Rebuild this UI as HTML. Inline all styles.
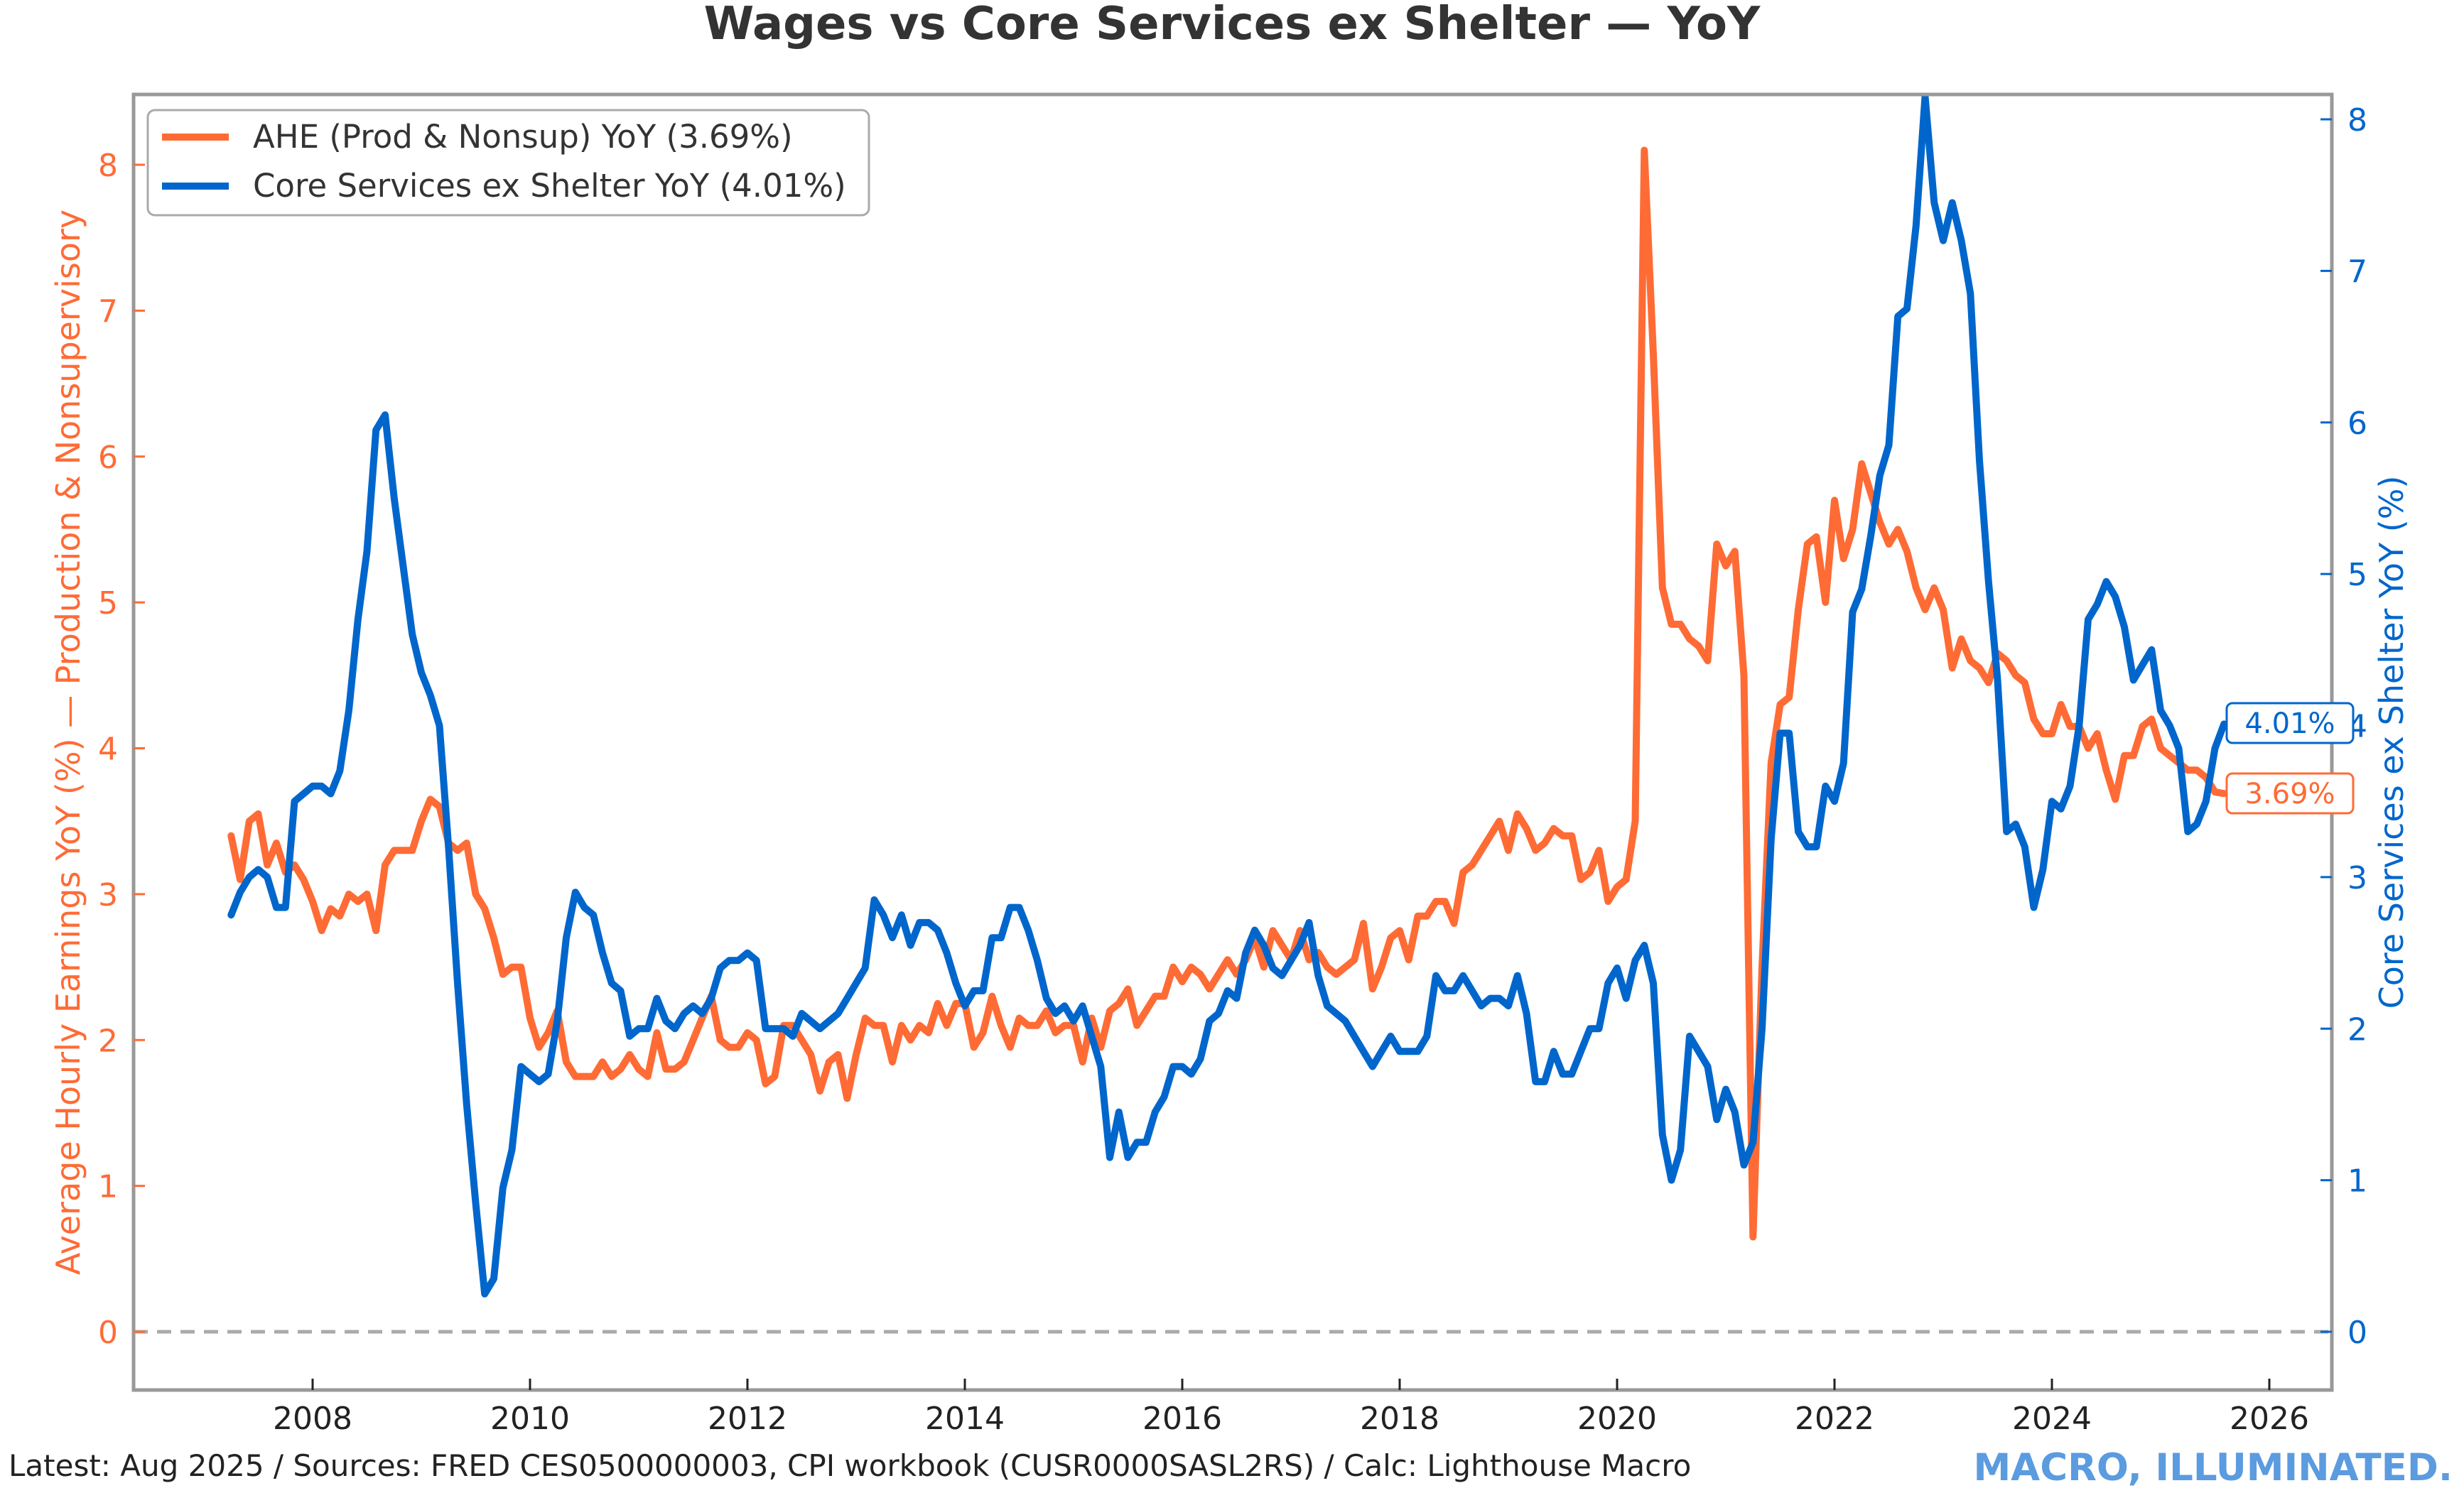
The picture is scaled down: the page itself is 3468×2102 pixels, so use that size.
<!DOCTYPE html>
<html><head><meta charset="utf-8"><style>
body{margin:0;background:#fff}
svg{display:block;font-family:"DejaVu Sans","Liberation Sans",sans-serif}
</style></head><body>
<svg id="chart" width="3468" height="2102" viewBox="0 0 3468 2102" xmlns="http://www.w3.org/2000/svg">
<rect width="3468" height="2102" fill="#fff"/>
<text x="1734" y="55" text-anchor="middle" font-size="64" font-weight="bold" fill="#333">Wages vs Core Services ex Shelter — YoY</text>
<g id="plot"></g>
</svg>
<script>
const startYear = 2007, startMonth = 4;
const ahe = [
3.4,3.1,3.5,3.55,3.2,3.35,3.15,3.2,3.1,
2.95,2.75,2.9,2.85,3.0,2.95,3.0,2.75,3.2,3.3,3.3,3.3,
3.5,3.65,3.6,3.35,3.3,3.35,3.0,2.9,2.7,2.45,2.5,2.5,
2.15,1.95,2.05,2.2,1.85,1.75,1.75,1.75,1.85,1.75,1.8,1.9,
1.8,1.75,2.05,1.8,1.8,1.85,2.0,2.15,2.3,2.0,1.95,1.95,
2.05,2.0,1.7,1.75,2.1,2.1,2.0,1.9,1.65,1.85,1.9,1.6,
1.9,2.15,2.1,2.1,1.85,2.1,2.0,2.1,2.05,2.25,2.1,2.25,
2.25,1.95,2.05,2.3,2.1,1.95,2.15,2.1,2.1,2.2,2.05,2.1,
2.1,1.85,2.15,1.95,2.2,2.25,2.35,2.1,2.2,2.3,2.3,2.5,
2.4,2.5,2.45,2.35,2.45,2.55,2.45,2.55,2.7,2.5,2.75,2.65,
2.55,2.75,2.55,2.6,2.5,2.45,2.5,2.55,2.8,2.35,2.5,2.7,
2.75,2.55,2.85,2.85,2.95,2.95,2.8,3.15,3.2,3.3,3.4,3.5,
3.3,3.55,3.45,3.3,3.35,3.45,3.4,3.4,3.1,3.15,3.3,2.95,
3.05,3.1,3.5,8.1,6.7,5.1,4.85,4.85,4.75,4.7,4.6,5.4,
5.25,5.35,4.5,0.65,2.5,3.9,4.3,4.35,4.95,5.4,5.45,5.0,
5.7,5.3,5.5,5.95,5.75,5.55,5.4,5.5,5.35,5.1,4.95,5.1,
4.95,4.55,4.75,4.6,4.55,4.45,4.65,4.6,4.5,4.45,4.2,4.1,
4.1,4.3,4.15,4.15,4.0,4.1,3.85,3.65,3.95,3.95,4.15,4.2,
4.0,3.95,3.9,3.85,3.85,3.8,3.7,3.69];
const core = [
2.75,2.9,3.0,3.05,3.0,2.8,2.8,3.5,3.55,
3.6,3.6,3.55,3.7,4.1,4.7,5.15,5.95,6.05,5.5,5.05,4.6,
4.35,4.2,4.0,3.2,2.3,1.5,0.85,0.25,0.35,0.95,1.2,1.75,
1.7,1.65,1.7,2.05,2.6,2.9,2.8,2.75,2.5,2.3,2.25,1.95,
2.0,2.0,2.2,2.05,2.0,2.1,2.15,2.1,2.2,2.4,2.45,2.45,
2.5,2.45,2.0,2.0,2.0,1.95,2.1,2.05,2.0,2.05,2.1,2.2,
2.3,2.4,2.85,2.75,2.6,2.75,2.55,2.7,2.7,2.65,2.5,2.3,
2.15,2.25,2.25,2.6,2.6,2.8,2.8,2.65,2.45,2.2,2.1,2.15,
2.05,2.15,1.95,1.75,1.15,1.45,1.15,1.25,1.25,1.45,1.55,1.75,
1.75,1.7,1.8,2.05,2.1,2.25,2.2,2.5,2.65,2.55,2.4,2.35,
2.45,2.55,2.7,2.35,2.15,2.1,2.05,1.95,1.85,1.75,1.85,1.95,
1.85,1.85,1.85,1.95,2.35,2.25,2.25,2.35,2.25,2.15,2.2,2.2,
2.15,2.35,2.1,1.65,1.65,1.85,1.7,1.7,1.85,2.0,2.0,2.3,
2.4,2.2,2.45,2.55,2.3,1.3,1.0,1.2,1.95,1.85,1.75,1.4,
1.6,1.45,1.1,1.25,2.0,3.25,3.95,3.95,3.3,3.2,3.2,3.6,
3.5,3.75,4.75,4.9,5.25,5.65,5.85,6.7,6.75,7.3,8.15,7.45,
7.2,7.45,7.2,6.85,5.75,4.95,4.3,3.3,3.35,3.2,2.8,3.05,
3.5,3.45,3.6,4.0,4.7,4.8,4.95,4.85,4.65,4.3,4.4,4.5,
4.1,4.0,3.85,3.3,3.35,3.5,3.85,4.01];
const xTicks = [2008,2010,2012,2014,2016,2018,2020,2022,2024,2026];
const leftTicks = [0,1,2,3,4,5,6,7,8];
const rightTicks = [0,1,2,3,4,5,6,7,8];

const L=188,R=3282,T=133,B=1957;
const xs = t => 440 + (t-2008)*(3194-440)/18;
const yl = v => 1875 - v*(1875-232)/8;
const yr = v => 1875 - v*(1875-168)/8;
const tOf = i => startYear + (startMonth-1+i)/12;
const NS="http://www.w3.org/2000/svg";
const g=document.getElementById('plot');
function mk(tag,attrs,parent){const e=document.createElementNS(NS,tag);for(const k in attrs)e.setAttribute(k,attrs[k]);(parent||g).appendChild(e);return e;}

const z=mk('line',{x1:L,x2:R,y1:yl(0),y2:yl(0),stroke:'#aaa','stroke-width':5,'stroke-dasharray':'20 13'});



function series(arr,yf,color,name){
  const d=arr.map((v,i)=>(i?'L':'M')+xs(tOf(i)).toFixed(1)+','+yf(v).toFixed(1)).join('');
  const p=mk('path',{d:d,fill:'none',stroke:color,'stroke-width':10,'stroke-linejoin':'round','stroke-linecap':'round'});
  
  
}
series(ahe,yl,'#FF6B35','ahe-yoy-line');
series(core,yr,'#0066CC','core-services-yoy-line');

const fr=mk('rect',{x:L,y:T,width:R-L,height:B-T,fill:'none',stroke:'#999','stroke-width':5});



xTicks.forEach(t=>{
  const x=xs(t);
  mk('line',{x1:x,x2:x,y1:B,y2:B-16,stroke:'#222','stroke-width':3});
  const tx=mk('text',{x:x,y:2012,'text-anchor':'middle','font-size':44,fill:'#222'});
  tx.textContent=t;
  
  
});
leftTicks.forEach(v=>{
  const y=yl(v);
  mk('line',{x1:L,x2:L+16,y1:y,y2:y,stroke:'#FF6B35','stroke-width':3});
  const tx=mk('text',{x:L-22,y:y+16,'text-anchor':'end','font-size':44,fill:'#FF6B35'});
  tx.textContent=v;
  
  
});
rightTicks.forEach(v=>{
  const y=yr(v);
  mk('line',{x1:R,x2:R-16,y1:y,y2:y,stroke:'#0066CC','stroke-width':3});
  const tx=mk('text',{x:R+22,y:y+16,'text-anchor':'start','font-size':44,fill:'#0066CC'});
  tx.textContent=v;
  
  
});

const lt=mk('text',{x:0,y:0,transform:'translate(112,1045) rotate(-90)','text-anchor':'middle','font-size':46,fill:'#FF6B35'});
lt.textContent='Average Hourly Earnings YoY (%) — Production & Nonsupervisory';


const rt=mk('text',{x:0,y:0,transform:'translate(3382,1045) rotate(-90)','text-anchor':'middle','font-size':46,fill:'#0066CC'});
rt.textContent='Core Services ex Shelter YoY (%)';



function endLabel(txt,y,color,name){
  const r=mk('rect',{x:3134,y:y-28,width:178,height:56,rx:8,fill:'#fff',stroke:color,'stroke-width':3});
  
  
  const t=mk('text',{x:3223,y:y+14,'text-anchor':'middle','font-size':40,fill:color});
  t.textContent=txt;
  
  
}
endLabel(core[core.length-1].toFixed(2)+'%',1018,'#0066CC','core-latest-label');
endLabel(ahe[ahe.length-1].toFixed(2)+'%',1117,'#FF6B35','ahe-latest-label');

const lg=mk('g',{});


mk('rect',{x:208,y:155,width:1015,height:148,rx:10,fill:'#fff',stroke:'#aaa','stroke-width':3},lg);
mk('line',{x1:228,x2:322,y1:193,y2:193,stroke:'#FF6B35','stroke-width':10},lg);
mk('line',{x1:228,x2:322,y1:262,y2:262,stroke:'#0066CC','stroke-width':10},lg);
const l1=mk('text',{x:356,y:208,'font-size':45,fill:'#333'},lg);
l1.textContent='AHE (Prod & Nonsup) YoY (3.69%)';


const l2=mk('text',{x:356,y:277,'font-size':45,fill:'#333'},lg);
l2.textContent='Core Services ex Shelter YoY (4.01%)';



const f=mk('text',{x:12,y:2078,'font-size':42,fill:'#222'});
f.textContent='Latest: Aug 2025 / Sources: FRED CES0500000003, CPI workbook (CUSR0000SASL2RS) / Calc: Lighthouse Macro';


const br=mk('text',{x:3452,y:2084,'text-anchor':'end','font-size':53,'font-weight':'bold',fill:'#5B9BE0'});
br.textContent='MACRO, ILLUMINATED.';


</script>
</body></html>
